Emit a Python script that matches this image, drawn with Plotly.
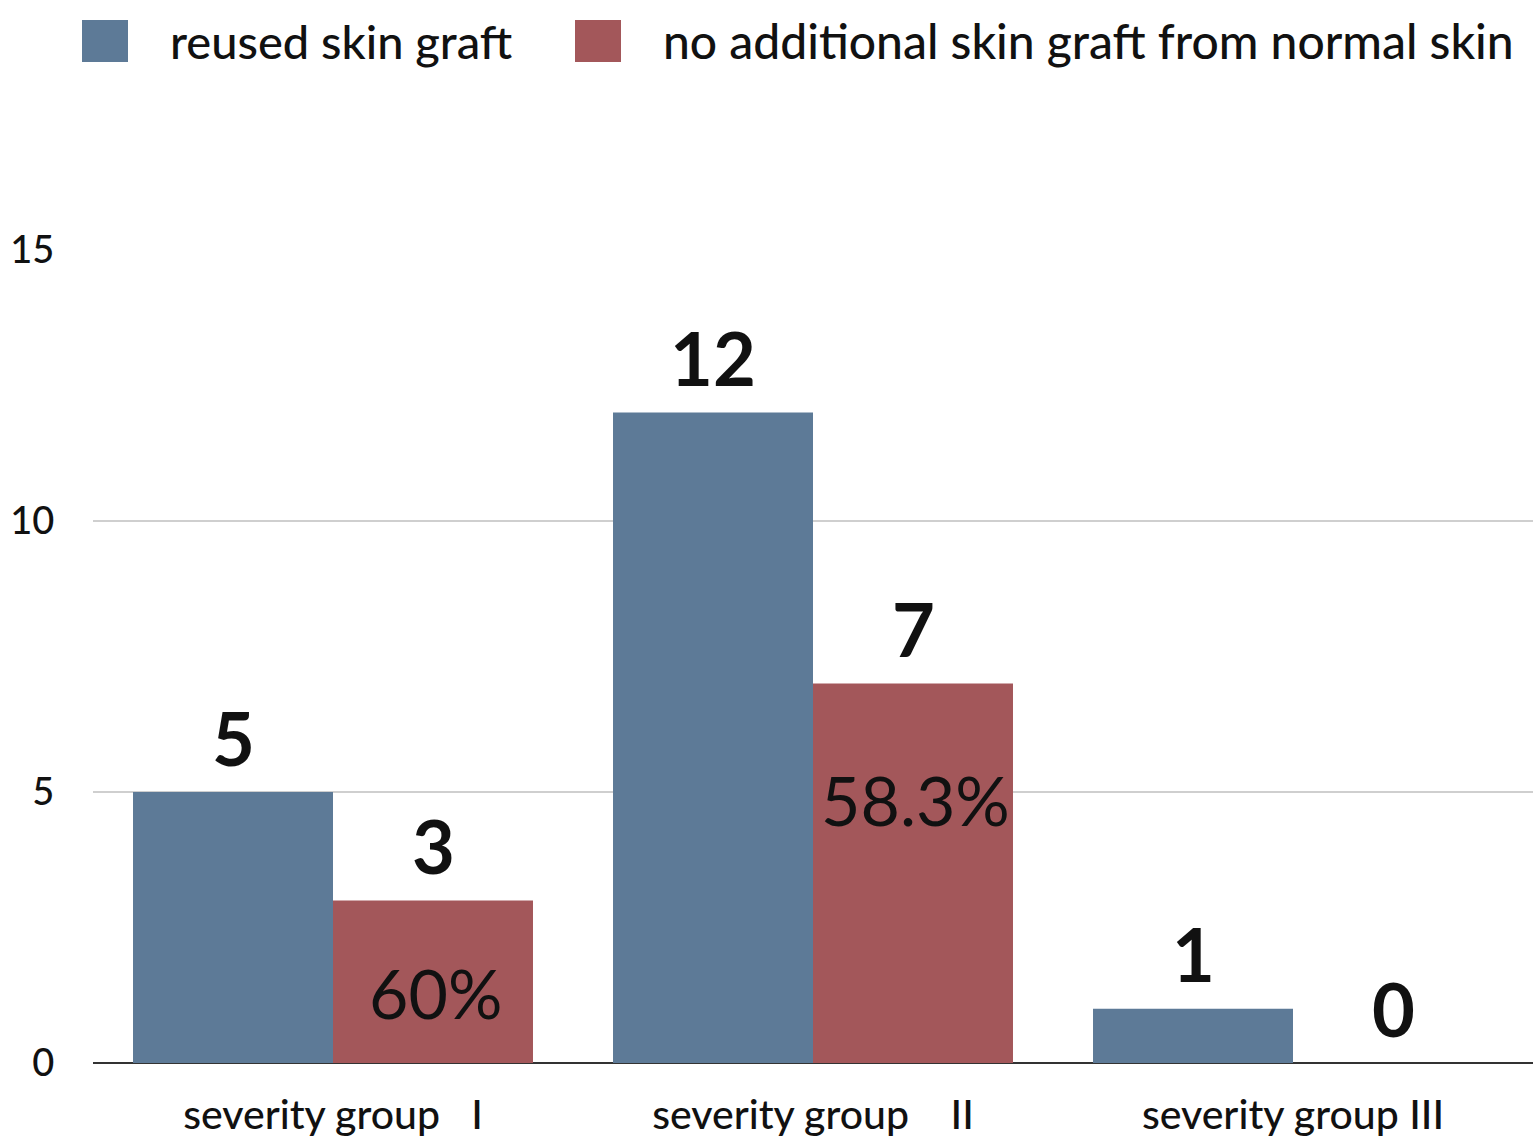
import plotly.graph_objects as go

categories = ["severity group\u00a0\u00a0\u00a0I", "severity group\u00a0\u00a0\u00a0\u00a0II", "severity group III"]
reused = [5, 12, 1]
no_additional = [3, 7, 0]
pct_labels = ["60%", "58.3%", ""]
pct_pos = [1.3, 4.86, None]  # y-position (data units) of the percentage text
series_names = ["reused skin graft", "no additional skin graft from normal skin"]

BLUE = "#5d7a97"
RED = "#a3575a"
FONT = "Lato"

W, H = 1533, 1144
L, R, T, B = 93, 0, 250, 81
PW, PH = W - L - R, H - T - B


def px(xp):
    return (xp - L) / PW


def py(yp):
    return (H - B - yp) / PH


fig = go.Figure()
fig.add_trace(go.Bar(x=categories, y=reused, name=series_names[0], marker=dict(color=BLUE, line=dict(width=0)),
                     showlegend=False))
fig.add_trace(go.Bar(x=categories, y=no_additional, name=series_names[1], marker=dict(color=RED, line=dict(width=0)),
                     showlegend=False))

annotations = []
for i, c in enumerate(categories):
    annotations.append(dict(x=c, y=reused[i], xref="x", yref="y", text=str(reused[i]), showarrow=False,
                            xshift=-100, yshift=55, yanchor="middle",
                            font=dict(family=FONT, size=74, color="#111111", weight=700)))
    annotations.append(dict(x=c, y=no_additional[i], xref="x", yref="y", text=str(no_additional[i]), showarrow=False,
                            xshift=100, yshift=55, yanchor="middle",
                            font=dict(family=FONT, size=74, color="#111111", weight=700)))
    if pct_labels[i]:
        annotations.append(dict(x=c, y=pct_pos[i], xref="x", yref="y", text=pct_labels[i], showarrow=False,
                                xshift=102, yanchor="middle",
                                font=dict(family=FONT, size=68, color="#111111")))

# manual legend
shapes = []
leg_items = [(82, 128, 170), (575, 621, 663)]
leg_sizes = [47, 48]
for (x0, x1, tx), name, col, fs in zip(leg_items, series_names, [BLUE, RED], leg_sizes):
    shapes.append(dict(type="rect", xref="paper", yref="paper", x0=px(x0), x1=px(x1), y0=py(62), y1=py(20),
                       fillcolor=col, line=dict(width=0)))
    annotations.append(dict(x=px(tx - 2), y=py(41), xref="paper", yref="paper", text=name, showarrow=False,
                            xanchor="left", yanchor="middle",
                            font=dict(family=FONT, size=fs, color="#111111", weight=500)))

fig.update_layout(
    width=W, height=H,
    margin=dict(l=L, r=R, t=T, b=B),
    paper_bgcolor="white", plot_bgcolor="white",
    barmode="group", bargap=0.1667, bargroupgap=0,
    showlegend=False,
    annotations=annotations, shapes=shapes,
    font=dict(family=FONT, color="#111111"),
)
fig.update_yaxes(range=[0, 15], tickvals=[0, 5, 10, 15], showgrid=True, gridcolor="#cfcfcf", gridwidth=1.5,
                 zeroline=True, zerolinecolor="#333333", zerolinewidth=2, showline=False,
                 ticks="outside", ticklen=30, tickcolor="rgba(0,0,0,0)",
                 tickfont=dict(family=FONT, size=38, color="#111111", weight=500))
fig.update_xaxes(showline=False, showgrid=False, ticks="", ticklabelstandoff=24,
                 tickfont=dict(family=FONT, size=41, color="#111111", weight=500))

fig.write_html("out.html")
